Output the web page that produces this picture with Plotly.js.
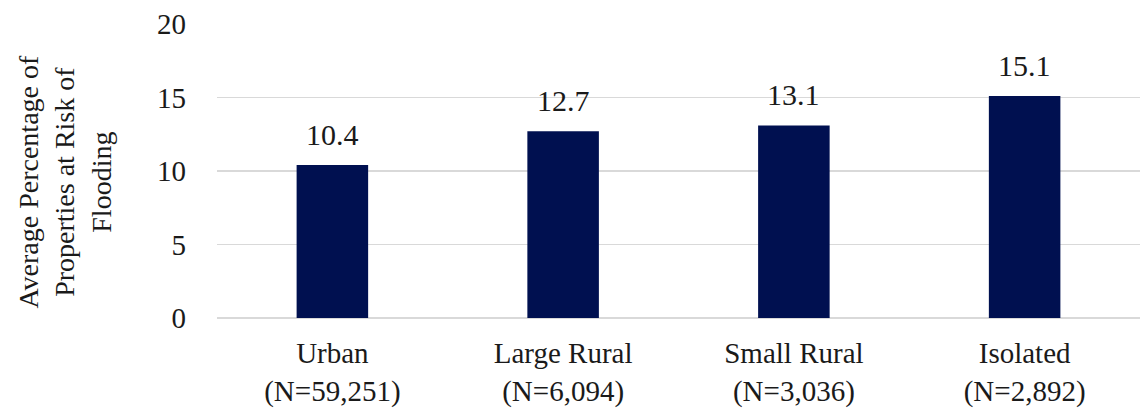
<!DOCTYPE html>
<html><head><meta charset="utf-8">
<script src="https://cdn.plot.ly/plotly-3.0.1.min.js"></script>
<style>body{margin:0;background:#fff}#c{width:1140px;height:408px}</style>
</head><body><div id="c"></div>
<script>
const categories = ["Urban<br>(N=59,251)", "Large Rural<br>(N=6,094)", "Small Rural<br>(N=3,036)", "Isolated<br>(N=2,892)"];
const values = [10.4, 12.7, 13.1, 15.1];
const valueLabels = ["10.4", "12.7", "13.1", "15.1"];
const yTicks = [0, 5, 10, 15, 20];
const yTitle = "Average Percentage of<br>Properties at Risk of<br>Flooding";

const FONT = "'Liberation Serif', 'Times New Roman', serif";
const TXT = "#1a1a1a";
const trace = {
  type: "bar", x: categories, y: values,
  marker: {color: "#001050"},
  hoverinfo: "skip"
};
const annotations = categories.map((c, i) => ({
  x: c, y: values[i], text: valueLabels[i], showarrow: false,
  yanchor: "bottom", yshift: 12, font: {family: FONT, size: 30, color: TXT}
}));
annotations.push({
  xref: "paper", yref: "paper", x: -0.165, y: 0.463, xanchor: "center", yanchor: "middle",
  textangle: -90, text: yTitle, showarrow: false, align: "center",
  font: {family: FONT, size: 28, color: TXT}
});
const layout = {
  width: 1140, height: 408,
  margin: {l: 217, r: 0, t: 24, b: 90},
  paper_bgcolor: "#fff", plot_bgcolor: "#fff",
  bargap: 0.69,
  showlegend: false,
  font: {family: FONT, size: 28, color: TXT},
  xaxis: {type: "category", range: [-0.5, 3.5], showgrid: false, zeroline: false,
          showline: false, ticks: "", ticklabelstandoff: 15,
          tickfont: {family: FONT, size: 29, color: TXT}},
  yaxis: {range: [0, 20], tickvals: yTicks, ticktext: yTicks.map(String), showgrid: true,
          gridcolor: "#d9d9d9", gridwidth: 1.5, zeroline: true, zerolinecolor: "#d9d9d9", zerolinewidth: 1.5,
          showline: false, ticks: "", ticklabelstandoff: 30,
          tickfont: {family: FONT, size: 29, color: TXT}},
  annotations: annotations
};
Plotly.newPlot("c", [trace], layout, {staticPlot: true, displayModeBar: false});
</script></body></html>
